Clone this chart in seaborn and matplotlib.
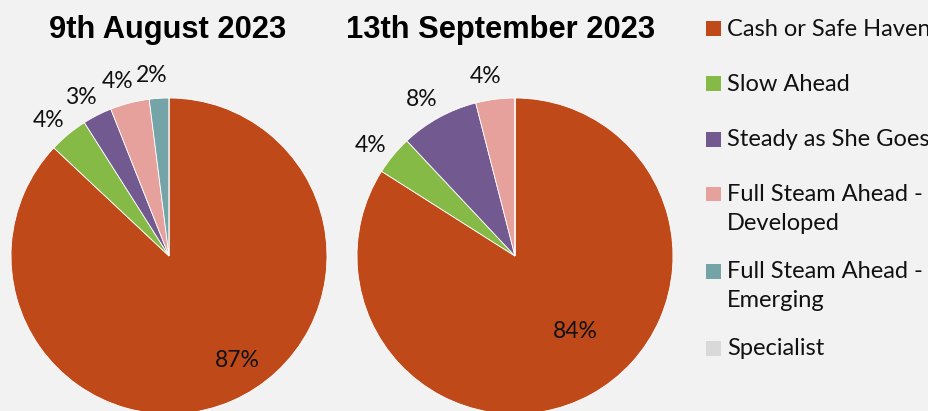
import matplotlib
matplotlib.use("Agg")
import numpy as np
import matplotlib.pyplot as plt
import seaborn as sns
from matplotlib.patches import Rectangle

# ---- data ----
categories = ["Cash or Safe Haven", "Slow Ahead", "Steady as She Goes",
              "Full Steam Ahead -\nDeveloped", "Full Steam Ahead -\nEmerging", "Specialist"]
aug_values = [87, 4, 3, 4, 2, 0]
sep_values = [84, 4, 8, 4, 0, 0]
titles = ["9th August 2023", "13th September 2023"]
colors = ["#C0491A", "#84BA45", "#72598F", "#E6A19C", "#74A3A8", "#D9D9D9"]

BG = "#F2F2F2"
sns.set_theme(style="white")
plt.rcParams['font.family'] = ['Lato', 'DejaVu Sans']

W, H = 929, 411
fig = plt.figure(figsize=(W / 100, H / 100), dpi=100, facecolor=BG)


def px_axes(cx, cy, r):
    return fig.add_axes([(cx - r) / W, (H - cy - r) / H, 2 * r / W, 2 * r / H])


pie_specs = [
    dict(values=aug_values, title=titles[0], cx=169, cy=256, r=158, tx=168, in_r=0.79),
    dict(values=sep_values, title=titles[1], cx=515, cy=256, r=158, tx=501, in_r=0.61),
]

for spec in pie_specs:
    ax = px_axes(spec["cx"], spec["cy"], spec["r"])
    ax.set_facecolor(BG)
    wedges, _ = ax.pie(spec["values"], colors=colors, startangle=90, counterclock=False,
                       wedgeprops=dict(edgecolor="white", linewidth=0.6))
    ax.set_xlim(-1, 1)
    ax.set_ylim(-1, 1)
    ax.set_aspect("equal")
    ax.axis("off")
    for i, (w, v) in enumerate(zip(wedges, spec["values"])):
        if v <= 0:
            continue
        mid = np.deg2rad((w.theta1 + w.theta2) / 2)
        if i == 0:
            ang = mid + np.deg2rad(10)
            d = spec["in_r"]
        else:
            ang = mid + np.deg2rad(2)
            d = 1.15
        ax.text(d * np.cos(ang), d * np.sin(ang), f"{v}%", ha="center", va="center",
                fontsize=16.5, color="#111111", clip_on=False)
    fig.text(spec["tx"] / W, 1 - 30 / H, spec["title"], ha="center", va="center",
             fontsize=22.2, fontweight="bold", family="Liberation Sans", color="#000000")

# ---- legend (manual, Excel-like) ----
y = 29
for cat, col in zip(categories, colors):
    nlines = cat.count("\n") + 1
    fig.patches.append(Rectangle((706 / W, 1 - (y + 7.5) / H), 15 / W, 15 / H,
                                 transform=fig.transFigure, facecolor=col, edgecolor="none"))
    fig.text(727 / W, 1 - (y - 10) / H, cat, ha="left", va="top", fontsize=17,
             color="#111111", linespacing=1.45)
    y += 55 + 22 * (nlines - 1)

fig.savefig("out.png", dpi=100, facecolor=BG)
